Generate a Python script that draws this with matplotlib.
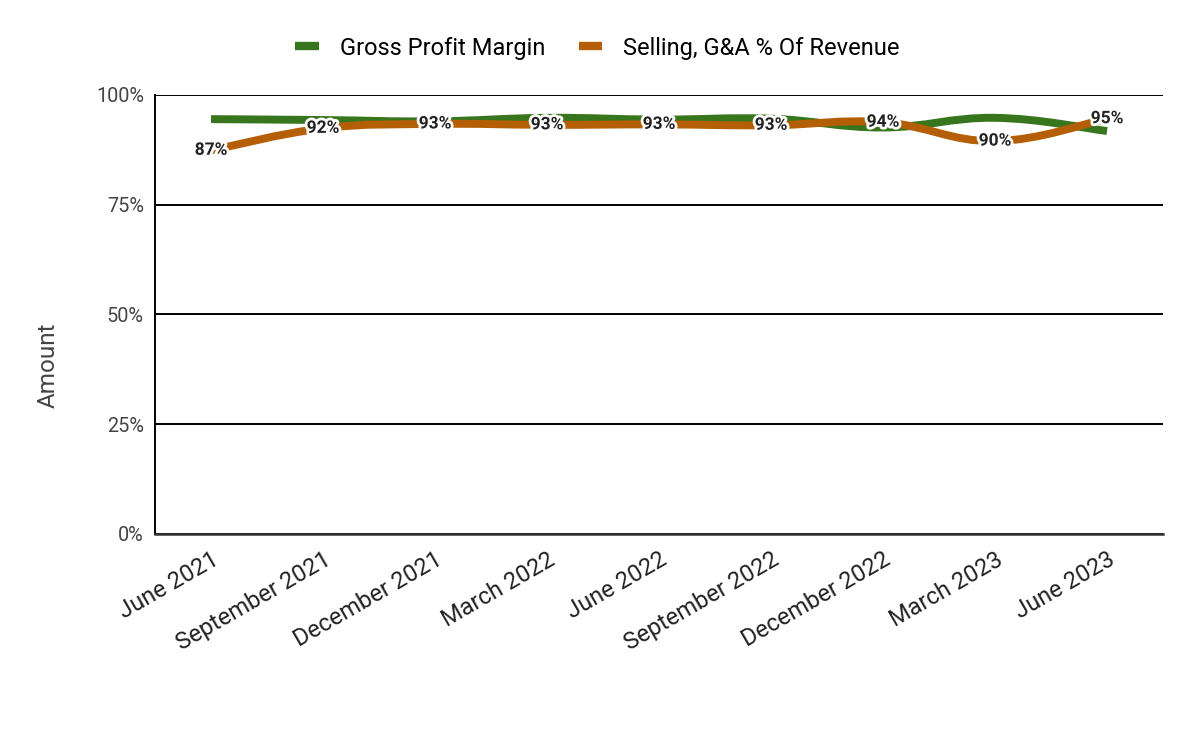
import numpy as np
import matplotlib.pyplot as plt
from matplotlib.path import Path
from matplotlib.patches import PathPatch
import matplotlib.patheffects as pe
from matplotlib.lines import Line2D

plt.rcParams['font.family'] = ['Roboto', 'DejaVu Sans']

# data
quarters = ['June 2021', 'September 2021', 'December 2021', 'March 2022', 'June 2022',
            'September 2022', 'December 2022', 'March 2023', 'June 2023']
gross_margin = [94.5, 94.3, 94.0, 94.8, 94.4, 94.6, 92.6, 94.8, 91.8]
sga_pct = [87.4, 92.4, 93.4, 93.2, 93.3, 93.1, 93.8, 89.5, 94.6]
sga_labels = ['87%', '92%', '93%', '93%', '93%', '93%', '94%', '90%', '95%']

green = '#38761d'
orange = '#b45f06'


def smooth_path(ys, k=0.2):
    # bezier path through the points (curved line, like the original)
    xs = np.arange(len(ys), dtype=float)
    ys = np.asarray(ys, dtype=float)
    n = len(xs)
    tx = np.zeros(n)
    ty = np.zeros(n)
    for i in range(n):
        a = max(i - 1, 0)
        b = min(i + 1, n - 1)
        tx[i] = (xs[b] - xs[a]) * k
        ty[i] = (ys[b] - ys[a]) * k
    verts = [(xs[0], ys[0])]
    codes = [Path.MOVETO]
    for i in range(n - 1):
        verts += [(xs[i] + tx[i], ys[i] + ty[i]),
                  (xs[i + 1] - tx[i + 1], ys[i + 1] - ty[i + 1]),
                  (xs[i + 1], ys[i + 1])]
        codes += [Path.CURVE4] * 3
    return Path(verts, codes)


fig = plt.figure(figsize=(12, 7.41), dpi=100)
ax = fig.add_axes([0.1292, 0.2794, 0.84, 0.5924])

ax.add_patch(PathPatch(smooth_path(gross_margin), fill=False, edgecolor=green,
                       lw=5.7, capstyle='butt', joinstyle='round', zorder=3))
ax.add_patch(PathPatch(smooth_path(sga_pct), fill=False, edgecolor=orange,
                       lw=5.7, capstyle='butt', joinstyle='round', zorder=4))

for i, (v, lab) in enumerate(zip(sga_pct, sga_labels)):
    ax.text(i, v, lab, ha='center', va='center', fontsize=12.5, fontweight='bold',
            color='#222222', zorder=5,
            path_effects=[pe.withStroke(linewidth=4, foreground='white')])

ax.set_xlim(-0.5, 8.5)
ax.set_ylim(0, 100)
ax.set_yticks([0, 25, 50, 75, 100])
ax.set_yticklabels(['0%', '25%', '50%', '75%', '100%'], fontsize=14.3, color='#444444')
ax.set_xticks(range(len(quarters)))
ax.set_xticklabels(quarters, rotation=30, ha='right', rotation_mode='anchor',
                   fontsize=17, color='#222222')
ax.tick_params(axis='both', length=0)
ax.tick_params(axis='y', pad=8)
ax.tick_params(axis='x', pad=10)

ax.grid(axis='y', color='black', lw=1.4, zorder=1)
ax.set_axisbelow(True)
for s in ['top', 'right']:
    ax.spines[s].set_visible(False)
ax.spines['left'].set_color('black')
ax.spines['left'].set_linewidth(1.4)
ax.spines['bottom'].set_color('#333333')
ax.spines['bottom'].set_linewidth(1.8)

fig.text(48 / 1200, 1 - 365 / 741, 'Amount', rotation=90, ha='center', va='center',
         fontsize=17.5, color='#444444')

handles = [Line2D([], [], color=green, lw=6, solid_capstyle='butt'),
           Line2D([], [], color=orange, lw=6, solid_capstyle='butt')]
fig.legend(handles, ['Gross Profit Margin', 'Selling, G&A % Of Revenue'],
           loc='center', bbox_to_anchor=(0.498, 1 - 48 / 741), ncol=2, frameon=False,
           fontsize=17, handlelength=1.0, columnspacing=1.4, handletextpad=0.9)

fig.savefig('out.png', dpi=100)
